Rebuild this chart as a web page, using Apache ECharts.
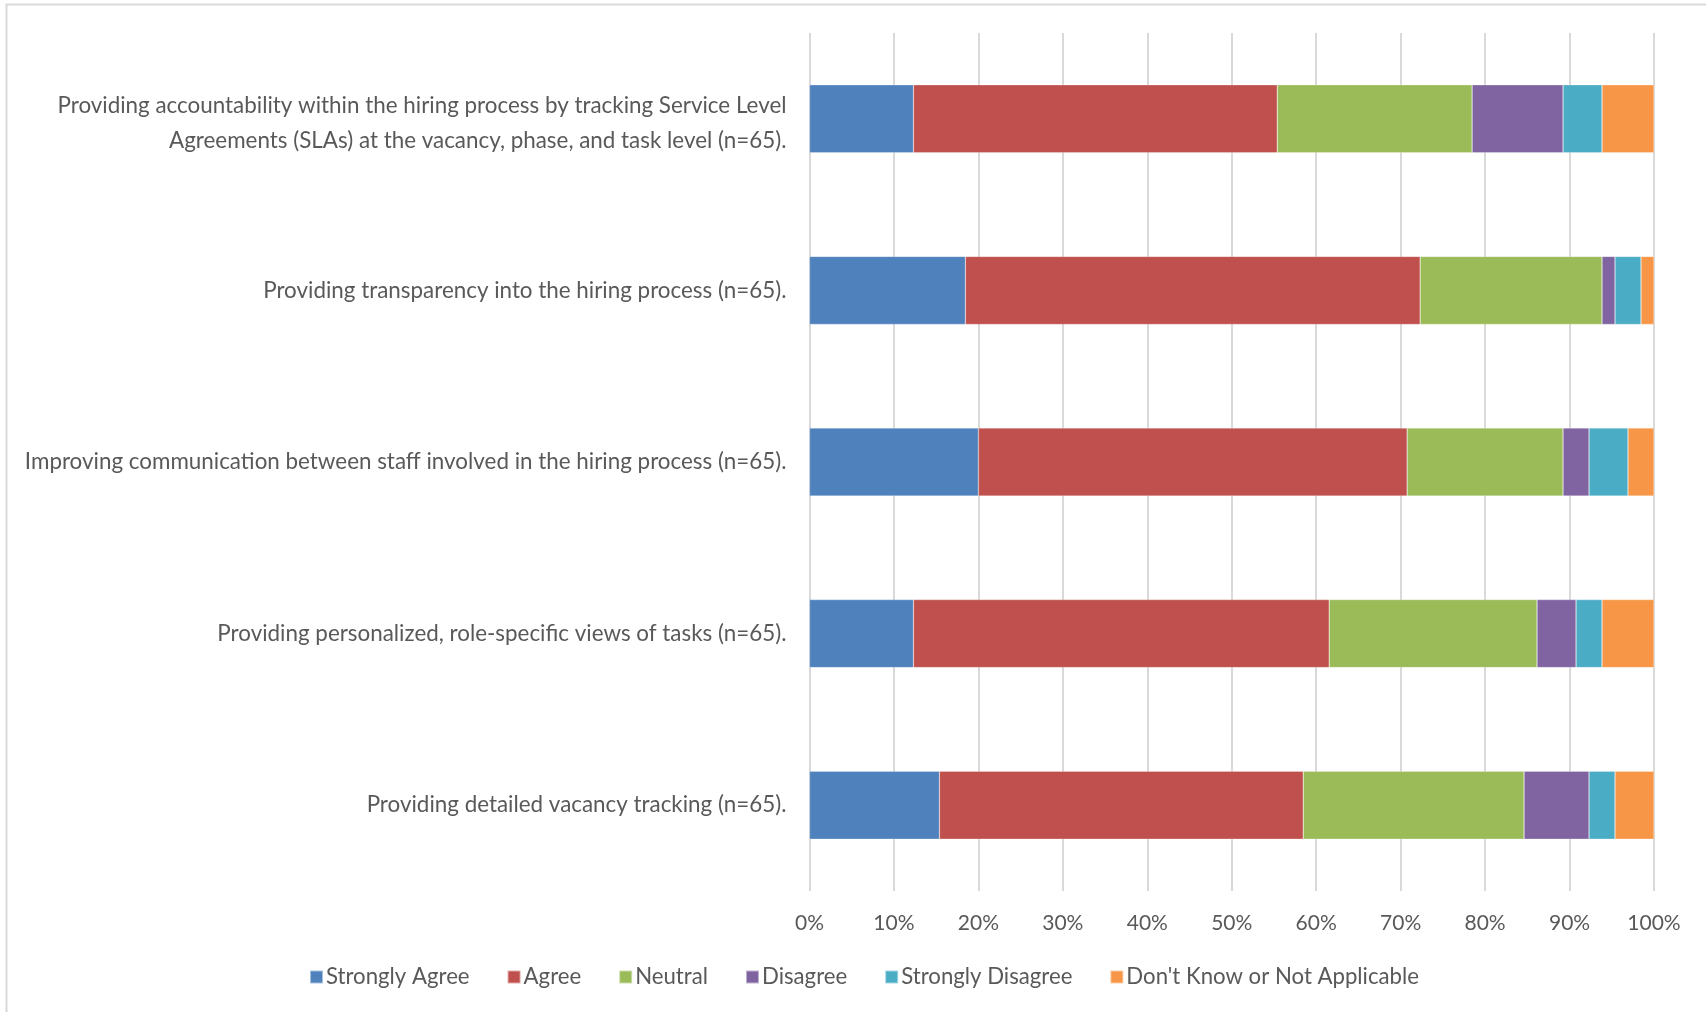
<!DOCTYPE html>
<html>
<head>
<meta charset="utf-8">
<script src="https://cdn.jsdelivr.net/npm/echarts@6/dist/echarts.min.js"></script>
<style>
  html, body { margin: 0; padding: 0; background: #fff; }
  #chart { width: 1706px; height: 1012px; }
</style>
</head>
<body>
<div id="chart"></div>
<script>
// Categories (top to bottom)
const categories = [
  'Providing accountability within the hiring process by tracking Service Level\nAgreements (SLAs) at the vacancy, phase, and task level (n=65).',
  'Providing transparency into the hiring process (n=65).',
  'Improving communication between staff involved in the hiring process (n=65).',
  'Providing personalized, role-specific views of tasks (n=65).',
  'Providing detailed vacancy tracking (n=65).'
];
// Respondent counts out of n=65
const stronglyAgree    = [8, 12, 13, 8, 10];
const agree            = [28, 35, 33, 32, 28];
const neutral          = [15, 14, 12, 16, 17];
const disagree         = [7, 1, 2, 3, 5];
const stronglyDisagree = [3, 2, 3, 2, 2];
const dontKnow         = [4, 1, 2, 4, 3];
const total = 65;
const tickLabels = ['0%', '10%', '20%', '30%', '40%', '50%', '60%', '70%', '80%', '90%', '100%'];

const seriesNames = ['Strongly Agree', 'Agree', 'Neutral', 'Disagree', 'Strongly Disagree', "Don't Know or Not Applicable"];
const seriesData = [stronglyAgree, agree, neutral, disagree, stronglyDisagree, dontKnow];
const colors = ['#4F81BD', '#C0504D', '#9BBB59', '#8064A2', '#4BACC6', '#F79646'];

const FONT = 'Lato';
const chart = echarts.init(document.getElementById('chart'), null, { renderer: 'canvas' });
chart.setOption({
  animation: false,
  color: colors,
  textStyle: { fontFamily: FONT },
  graphic: [{
    type: 'rect',
    shape: { x: 6.5, y: 4.5, width: 2000, height: 2000 },
    style: { fill: 'none', stroke: '#d9d9d9', lineWidth: 2 },
    silent: true
  }],
  grid: { left: 809.5, right: 52, top: 33, bottom: 121, containLabel: false },
  legend: {
    top: 961,
    left: 304,
    itemWidth: 13,
    itemHeight: 13,
    itemGap: 37,
    icon: 'rect',
    textStyle: { fontSize: 22.2, color: '#595959', fontFamily: FONT, padding: [0, 0, 0, -2] },
    data: seriesNames
  },
  xAxis: {
    type: 'value',
    min: 0,
    max: total,
    interval: total / 10,
    axisLine: { show: false },
    axisTick: { show: false },
    splitLine: { show: true, lineStyle: { color: '#d9d9d9', width: 2 } },
    axisLabel: {
      fontSize: 21, color: '#595959', margin: 22, fontFamily: FONT,
      formatter: v => tickLabels[Math.round(v / (total / 10))]
    }
  },
  yAxis: {
    type: 'category',
    inverse: true,
    data: categories,
    axisLine: { show: false },
    axisTick: { show: false },
    axisLabel: {
      fontSize: 22.4, color: '#595959', margin: 23, lineHeight: 35, align: 'right', fontFamily: FONT,
      formatter: v => v.indexOf('\n') >= 0
        ? '{p| }\n' + v.split('\n').map(l => '{t|' + l + '}').join('\n')
        : '{t|' + v + '}',
      rich: {
        t: { fontSize: 22.4, color: '#595959', lineHeight: 35, fontFamily: FONT, align: 'right' },
        p: { fontSize: 2, lineHeight: 8 }
      }
    }
  },
  series: seriesNames.map((name, i) => ({
    name,
    type: 'bar',
    stack: 'total',
    barWidth: 68,
    data: seriesData[i],
    itemStyle: { borderColor: 'rgba(255,255,255,0.5)', borderWidth: 0.5 }
  }))
});
</script>
</body>
</html>
